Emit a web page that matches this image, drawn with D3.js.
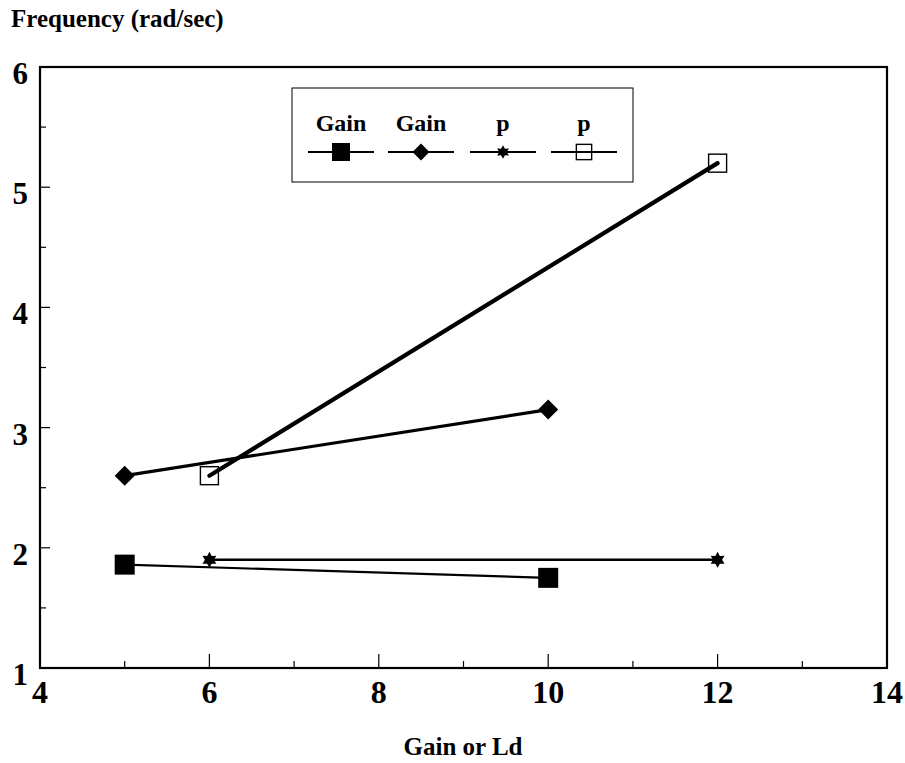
<!DOCTYPE html>
<html><head><meta charset="utf-8">
<script src="https://cdn.jsdelivr.net/npm/d3@7"></script>
<style>
body{margin:0;background:#fff;}
text{font-family:"Liberation Serif","Times New Roman",serif;font-weight:bold;fill:#000;}
</style></head>
<body><svg id="c" width="905" height="763"></svg>
<script>
const xTicks = [4, 6, 8, 10, 12, 14];
const yTicks = [1, 2, 3, 4, 5, 6];
const seriesNames = ["Gain", "Gain", "p", "p"];
const gainSquareX = [5, 10];
const gainSquareY = [1.86, 1.75];
const gainDiamondX = [5, 10];
const gainDiamondY = [2.6, 3.15];
const pStarX = [6, 12];
const pStarY = [1.9, 1.9];
const pOpenX = [6, 12];
const pOpenY = [2.6, 5.2];

const svg = d3.select("#c");
const L = 40, R = 887, T = 67, B = 668;
const x = d3.scaleLinear().domain([4, 14]).range([L, R]);
const y = d3.scaleLinear().domain([1, 6]).range([B, T]);

svg.append("rect").attr("x", L).attr("y", T).attr("width", R - L).attr("height", B - T)
  .attr("fill", "none").attr("stroke", "#000").attr("stroke-width", 2.2);

const xAll = d3.range(5, 14, 1);
svg.append("g").selectAll("line").data(xAll).join("line")
  .attr("x1", d => x(d)).attr("x2", d => x(d))
  .attr("y1", B).attr("y2", d => B - (d % 2 === 0 ? 14 : 7))
  .attr("stroke", "#000").attr("stroke-width", 1.2);
const yAll = d3.range(1.5, 6, 0.5);
svg.append("g").selectAll("line").data(yAll).join("line")
  .attr("y1", d => y(d)).attr("y2", d => y(d))
  .attr("x1", L).attr("x2", d => L + (Number.isInteger(d) ? 10 : 6))
  .attr("stroke", "#000").attr("stroke-width", 1.2);

svg.append("g").selectAll("text").data(xTicks).join("text")
  .attr("x", d => x(d)).attr("y", 703).attr("text-anchor", "middle")
  .attr("font-size", 32).text(d => d);
svg.append("g").selectAll("text").data(yTicks).join("text")
  .attr("x", 28).attr("y", d => y(d) + 17).attr("text-anchor", "end")
  .attr("font-size", 31).text(d => d);

svg.append("text").attr("x", 11).attr("y", 27).attr("font-size", 25).text("Frequency (rad/sec)");
svg.append("text").attr("x", 463).attr("y", 755).attr("text-anchor", "middle").attr("font-size", 25).text("Gain or Ld");

const series = [
  {xs: gainSquareX, ys: gainSquareY, w: 2.2, sym: "sq"},
  {xs: gainDiamondX, ys: gainDiamondY, w: 3.2, sym: "dia"},
  {xs: pStarX, ys: pStarY, w: 2.6, sym: "star"},
  {xs: pOpenX, ys: pOpenY, w: 4.2, sym: "open"}
];
const line = d3.line();
function star6(r1, r2) {
  const pts = [];
  for (let i = 0; i < 12; i++) {
    const a = Math.PI / 6 * i - Math.PI / 2;
    const r = i % 2 === 0 ? r1 : r2;
    pts.push([r * Math.cos(a), r * Math.sin(a)]);
  }
  return "M" + pts.map(p => p.join(",")).join("L") + "Z";
}
function drawSym(g, kind, cx, cy, scale) {
  const s = scale || 1;
  if (kind === "sq") {
    g.append("rect").attr("x", cx - 10 * s).attr("y", cy - 10 * s).attr("width", 20 * s).attr("height", 20 * s).attr("fill", "#000");
  } else if (kind === "dia") {
    g.append("path").attr("transform", `translate(${cx},${cy})`)
      .attr("d", `M0,${-10 * s}L${10 * s},0L0,${10 * s}L${-10 * s},0Z`).attr("fill", "#000");
  } else if (kind === "star") {
    g.append("path").attr("transform", `translate(${cx},${cy})`).attr("d", star6(8 * s, 4.5 * s)).attr("fill", "#000");
  } else {
    g.append("rect").attr("x", cx - 9 * s).attr("y", cy - 9 * s).attr("width", 18 * s).attr("height", 18 * s)
      .attr("fill", "none").attr("stroke", "#000").attr("stroke-width", 1.4);
  }
}
const gS = svg.append("g");
series.forEach(s => {
  const pts = s.xs.map((v, i) => [x(v), y(s.ys[i])]);
  gS.append("path").attr("d", line(pts)).attr("fill", "none").attr("stroke", "#000")
    .attr("stroke-width", s.w).attr("stroke-linecap", "round");
  pts.forEach(p => drawSym(gS, s.sym, p[0], p[1]));
});

const lg = svg.append("g");
lg.append("rect").attr("x", 292).attr("y", 88).attr("width", 341).attr("height", 94)
  .attr("fill", "#fff").attr("stroke", "#000").attr("stroke-width", 1);
const lx = [341, 421, 503, 584];
seriesNames.forEach((n, i) => {
  lg.append("text").attr("x", lx[i]).attr("y", 131).attr("text-anchor", "middle").attr("font-size", 24).text(n);
  lg.append("line").attr("x1", lx[i] - 33).attr("x2", lx[i] + 33).attr("y1", 152).attr("y2", 152)
    .attr("stroke", "#000").attr("stroke-width", 2.2);
  drawSym(lg, series[i].sym, lx[i], 152, i === 0 ? 0.9 : 0.85);
});
</script></body></html>
